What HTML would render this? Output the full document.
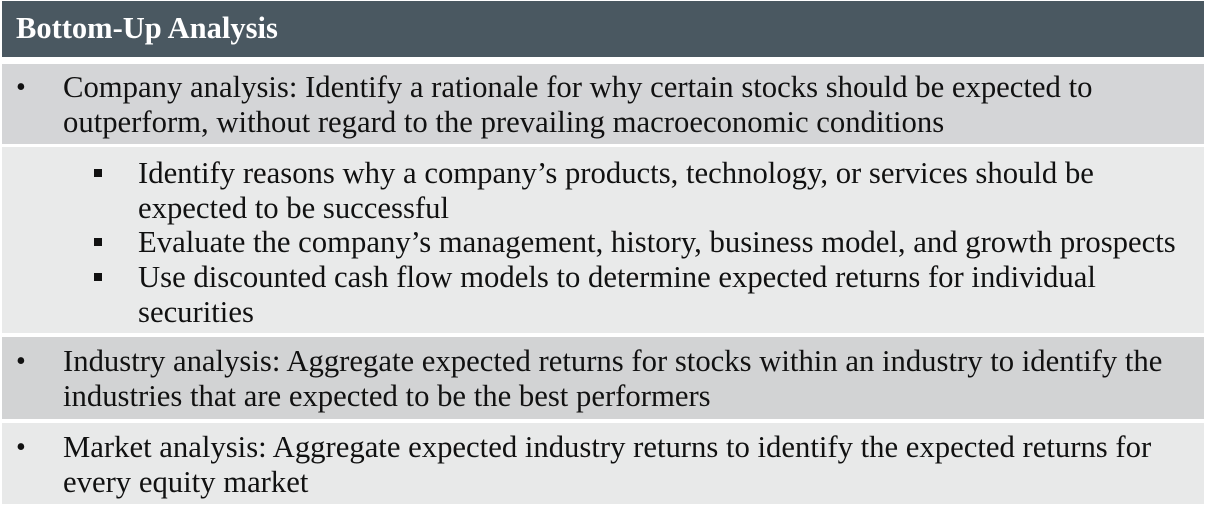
<!DOCTYPE html>
<html><head><meta charset="utf-8"><style>
body{margin:0;width:1206px;height:506px;background:#fff;position:relative;overflow:hidden;font-family:"Liberation Serif",serif;}
.r{position:absolute;left:2px;width:1202px;}
.t{position:absolute;white-space:nowrap;font-size:30.7px;line-height:34.5px;color:#111;}
.b{position:absolute;font-size:28px;line-height:34px;color:#111;}
.sq{position:absolute;width:8px;height:8px;background:#111;}
</style></head><body>
<div class="r" style="top:1px;height:56px;background:#4a5861;"></div>
<div class="t" style="left:16px;top:11px;color:#fff;font-weight:bold;font-size:30.5px;">Bottom-Up Analysis</div>

<div class="r" style="top:64px;height:80px;background:#d4d5d7;"></div>
<div class="b" style="left:16px;top:71px;">•</div>
<div class="t" style="left:63px;top:70px;">Company analysis: Identify a rationale for why certain stocks should be expected to<br>outperform, without regard to the prevailing macroeconomic conditions</div>

<div class="r" style="top:147px;height:186px;background:#e9eaea;"></div>
<div class="sq" style="left:94px;top:169px;"></div>
<div class="t" style="left:138px;top:156px;">Identify reasons why a company’s products, technology, or services should be<br>expected to be successful</div>
<div class="sq" style="left:94px;top:238px;"></div>
<div class="t" style="left:138px;top:225px;">Evaluate the company’s management, history, business model, and growth prospects</div>
<div class="sq" style="left:94px;top:273px;"></div>
<div class="t" style="left:138px;top:260px;">Use discounted cash flow models to determine expected returns for individual<br>securities</div>

<div class="r" style="top:337px;height:82px;background:#d2d3d4;"></div>
<div class="b" style="left:16px;top:345px;">•</div>
<div class="t" style="left:63px;top:344px;">Industry analysis: Aggregate expected returns for stocks within an industry to identify the<br>industries that are expected to be the best performers</div>

<div class="r" style="top:423px;height:81px;background:#e8e9e9;"></div>
<div class="b" style="left:16px;top:431px;">•</div>
<div class="t" style="left:63px;top:430px;">Market analysis: Aggregate expected industry returns to identify the expected returns for<br>every equity market</div>
</body></html>
